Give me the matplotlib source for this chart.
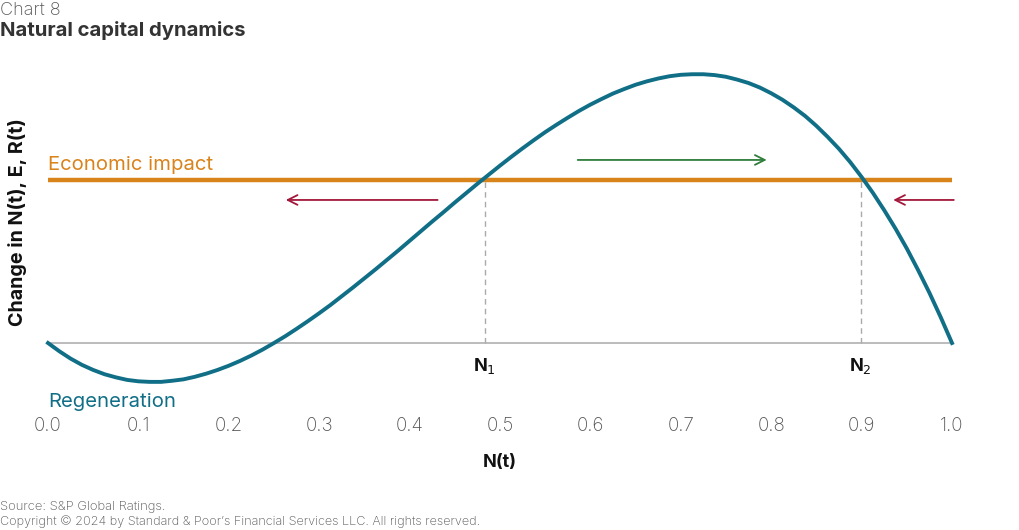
import matplotlib
matplotlib.use("Agg")
import matplotlib.pyplot as plt

# Data (arbitrary units for change in N(t))
n_values = [0.0, 0.0125, 0.025, 0.0375, 0.05, 0.0625, 0.075, 0.0875, 0.1, 0.1125,
            0.125, 0.1375, 0.15, 0.1625, 0.175, 0.1875, 0.2, 0.2125, 0.225, 0.2375,
            0.25, 0.2625, 0.275, 0.2875, 0.3, 0.3125, 0.325, 0.3375, 0.35, 0.3625,
            0.375, 0.3875, 0.4, 0.4125, 0.425, 0.4375, 0.45, 0.4625, 0.475, 0.4875,
            0.5, 0.5125, 0.525, 0.5375, 0.55, 0.5625, 0.575, 0.5875, 0.6, 0.6125,
            0.625, 0.6375, 0.65, 0.6625, 0.675, 0.6875, 0.7, 0.7125, 0.725, 0.7375,
            0.75, 0.7625, 0.775, 0.7875, 0.8, 0.8125, 0.825, 0.8375, 0.85, 0.8625,
            0.875, 0.8875, 0.9, 0.9125, 0.925, 0.9375, 0.95, 0.9625, 0.975, 0.9875,
            1.0]
regeneration = [0.0, -0.29, -0.55, -0.77, -0.95, -1.10, -1.21, -1.30, -1.35, -1.37,
                -1.37, -1.33, -1.28, -1.19, -1.08, -0.95, -0.80, -0.63, -0.44, -0.23,
                0.0, 0.24, 0.50, 0.77, 1.05, 1.34, 1.65, 1.96, 2.28, 2.60,
                2.93, 3.26, 3.60, 3.94, 4.28, 4.61, 4.95, 5.28, 5.61, 5.93,
                6.25, 6.56, 6.86, 7.15, 7.43, 7.69, 7.94, 8.18, 8.40, 8.60,
                8.79, 8.95, 9.10, 9.22, 9.32, 9.40, 9.45, 9.47, 9.47, 9.44,
                9.38, 9.28, 9.16, 9.00, 8.80, 8.57, 8.30, 8.00, 7.65, 7.26,
                6.84, 6.37, 5.85, 5.29, 4.68, 4.03, 3.33, 2.57, 1.77, 0.91,
                0.0]
economic_impact = 5.75
equilibria = [0.483, 0.899]
equilibria_labels = ["N$_1$", "N$_2$"]
x_ticks = [0.0, 0.1, 0.2, 0.3, 0.4, 0.5, 0.6, 0.7, 0.8, 0.9, 1.0]
# arrows: (start, end, level, colour)
arrows = [(0.431, 0.263, 5.04, "#a3173a"),
          (0.586, 0.795, 6.45, "#2e7d3a"),
          (1.002, 0.935, 5.04, "#a3173a")]

TEAL = "#106f87"
ORANGE = "#d9831b"
GRAY_TXT = "#555555"

plt.rcParams['font.family'] = ['Inter', 'DejaVu Sans']

W, H = 1020, 530
fig = plt.figure(figsize=(W / 100, H / 100), dpi=100)
ax_top_px, ax_bot_px = 60, 400
ax = fig.add_axes([48 / W, (H - ax_bot_px) / H, (952 - 48) / W, (ax_bot_px - ax_top_px) / H])
px_per_unit = 28.38
zero_px = 343
ax.set_xlim(0, 1)
ax.set_ylim((zero_px - ax_bot_px) / px_per_unit, (zero_px - ax_top_px) / px_per_unit)
for s in ax.spines.values():
    s.set_visible(False)

ax.axhline(0, color="#aaaaaa", lw=1.1, zorder=1)
ax.plot([0, 1], [economic_impact, economic_impact], color=ORANGE, lw=3.2,
        solid_capstyle="butt", zorder=3)
ax.plot(n_values, regeneration, color=TEAL, lw=2.8, zorder=4, clip_on=False,
        solid_joinstyle="round")
for xe in equilibria:
    ax.plot([xe, xe], [0, economic_impact], color="#aaaaaa", lw=1.0,
            ls=(0, (4, 3)), zorder=2)
for xe, lab in zip(equilibria, equilibria_labels):
    ax.text(xe, -0.45, lab, ha="center", va="top", fontsize=13, fontweight="bold",
            color="#111111")

for x0, x1, yv, c in arrows:
    ax.annotate("", xy=(x1, yv), xytext=(x0, yv),
                arrowprops=dict(arrowstyle="->,head_length=0.7,head_width=0.35",
                                color=c, lw=1.3, shrinkA=0, shrinkB=0),
                annotation_clip=False)

ax.text(0.0, economic_impact + 0.22, "Economic impact", color=ORANGE, fontsize=14.6,
        ha="left", va="bottom")
ax.text(0.0, -2.07, "Regeneration", color=TEAL, fontsize=14.6, ha="left", va="center")

ax.set_xticks(x_ticks)
ax.set_xticklabels([f"{t:.1f}" for t in x_ticks], fontsize=13.5, color=GRAY_TXT,
                   fontweight="light")
ax.tick_params(axis="x", length=0, pad=12)
ax.set_yticks([])
ax.set_xlabel("N(t)", fontsize=13, fontweight="bold", labelpad=14, color="#111111")

fig.text(18 / W, 1 - 222 / H, "Change in N(t), E, R(t)", rotation=90, fontsize=14.2,
         fontweight="bold", ha="center", va="center", color="#111111")

fig.text(0.0, 1 - 10 / H, "Chart 8", fontsize=13, color=GRAY_TXT, fontweight="light",
         ha="left", va="center")
fig.text(0.0, 1 - 31 / H, "Natural capital dynamics", fontsize=14.6, fontweight="bold",
         color="#333333", ha="left", va="center")
fig.text(0.0, 1 - 507 / H, "Source: S&P Global Ratings.", fontsize=9.4, color=GRAY_TXT,
         ha="left", va="center", fontweight="light")
fig.text(0.0, 1 - 522 / H,
         "Copyright \u00a9 2024 by Standard & Poor\u2019s Financial Services LLC. All rights reserved.",
         fontsize=9.1, color=GRAY_TXT, ha="left", va="center", fontweight="light")

fig.savefig("out.png", dpi=100)
